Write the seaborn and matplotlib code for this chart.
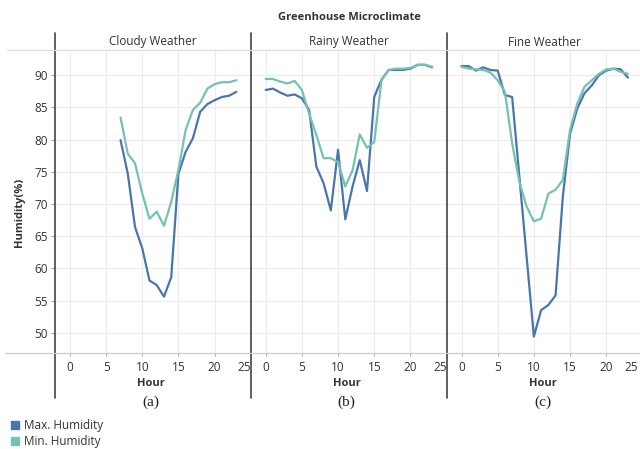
import matplotlib
matplotlib.use("Agg")
import matplotlib.pyplot as plt
from matplotlib.lines import Line2D
import matplotlib.transforms as mtransforms
import seaborn as sns
import pandas as pd

# Hourly humidity readings (%) inside the greenhouse
cloudy_hours = list(range(7, 24))
cloudy_max = [79.9, 74.7, 66.4, 63.1, 58.1, 57.4, 55.6, 58.6, 74.7, 78.1, 80.2,
              84.3, 85.5, 86.1, 86.6, 86.8, 87.4]
cloudy_min = [83.4, 77.8, 76.3, 71.6, 67.7, 68.8, 66.6, 70.3, 75.3, 81.5, 84.6,
              85.7, 87.9, 88.6, 88.9, 88.9, 89.2]

rainy_hours = list(range(0, 24))
rainy_max = [87.7, 87.9, 87.3, 86.8, 87.0, 86.4, 84.6, 75.8, 73.2, 69.0, 78.4, 67.6,
             72.7, 76.8, 72.0, 86.6, 89.3, 90.8, 90.8, 90.8, 91.0, 91.6, 91.6, 91.2]
rainy_min = [89.4, 89.4, 89.0, 88.7, 89.1, 87.7, 84.0, 80.7, 77.1, 77.1, 76.5, 72.7,
             75.2, 80.8, 78.7, 79.6, 89.2, 90.8, 91.0, 91.0, 91.1, 91.6, 91.6, 91.3]

fine_hours = list(range(0, 24))
fine_max = [91.4, 91.4, 90.7, 91.2, 90.8, 90.7, 86.9, 86.6, 74.2, 61.8, 49.4, 53.5,
            54.3, 55.8, 71.1, 80.9, 84.8, 87.2, 88.4, 90.0, 90.7, 91.0, 90.9, 89.6]
fine_min = [91.3, 91.0, 90.9, 90.8, 90.4, 89.2, 87.4, 79.4, 73.4, 69.6, 67.3, 67.7,
            71.6, 72.2, 73.7, 81.5, 85.6, 88.2, 89.2, 90.2, 90.9, 91.0, 90.5, 90.2]

panel_titles = ["Cloudy Weather", "Rainy Weather", "Fine Weather"]
panel_tags = ["(a)", "(b)", "(c)"]
series_names = ["Max. Humidity", "Min. Humidity"]
series_colors = ["#4a75ad", "#74c2b2"]
x_ticks = [0, 5, 10, 15, 20, 25]
y_ticks = [50, 55, 60, 65, 70, 75, 80, 85, 90]

panels = [
    (cloudy_hours, cloudy_max, cloudy_min),
    (rainy_hours, rainy_max, rainy_min),
    (fine_hours, fine_max, fine_min),
]

sns.set_theme(style="white")
plt.rcParams["font.family"] = ["Open Sans", "DejaVu Sans"]

W, H = 640, 449
fig = plt.figure(figsize=(W / 100, H / 100), dpi=100)

def fx(px):
    return px / W

def fy(py):
    return 1 - py / H

ax_top, ax_bot = 50, 353
panel_left = [55, 250.8, 446.6]
panel_w = 195.8
text_col = "#333333"
grid_col = "#ececec"

palette = dict(zip(series_names, series_colors))

for i, (hours, hmax, hmin) in enumerate(panels):
    left = panel_left[i]
    ax = fig.add_axes([fx(left), fy(ax_bot), panel_w / W, (ax_bot - ax_top) / H])
    df = pd.DataFrame({
        "Hour": hours * 2,
        "Humidity": hmax + hmin,
        "Series": [series_names[0]] * len(hours) + [series_names[1]] * len(hours),
    })
    sns.lineplot(data=df, x="Hour", y="Humidity", hue="Series",
                 hue_order=series_names, palette=palette, linewidth=1.6,
                 legend=False, ax=ax, zorder=3)
    ax.set_xlim(-2.06, 25.0)
    ax.set_ylim(46.85, 93.9)
    ax.set_xticks(x_ticks)
    ax.set_yticks(y_ticks)
    ax.grid(True, color=grid_col, linewidth=0.8, zorder=0)
    for s in ax.spines.values():
        s.set_visible(False)
    ax.set_xlabel("")
    ax.set_ylabel("")
    ax.tick_params(axis="x", length=2.5, width=0.6, color="#999999", pad=3,
                   labelsize=8.5, labelcolor=text_col, bottom=True)
    last = ax.get_xticklabels()[-1]
    last.set_ha("right")
    if i == 2:
        # keep the final label inside the canvas
        last.set_transform(last.get_transform() +
                           mtransforms.ScaledTranslation(-4 / 100, 0, fig.dpi_scale_trans))
    if i == 0:
        ax.tick_params(axis="y", length=3, width=0.6, color="#999999", pad=2,
                       labelsize=8.5, labelcolor=text_col, left=True)
    else:
        ax.tick_params(axis="y", left=False, labelleft=False)
    cx = left + panel_w / 2
    fig.text(fx(cx), fy(42), panel_titles[i], ha="center", va="center",
             fontsize=8.5, color=text_col)
    fig.text(fx(cx - 2), fy(384), "Hour", ha="center", va="center",
             fontsize=8, fontweight="bold", color=text_col)
    fig.text(fx(cx - 2), fy(402), panel_tags[i], ha="center", va="center",
             fontsize=11, family="Liberation Serif", color="#222222")
    # facet divider
    fig.add_artist(Line2D([fx(left), fx(left)], [fy(33), fy(398)],
                          color="#444444", linewidth=1.2))

# header and axis rules
fig.add_artist(Line2D([fx(7), fx(640)], [fy(50), fy(50)], color="#dddddd", linewidth=0.9))
fig.add_artist(Line2D([fx(5), fx(640)], [fy(353), fy(353)], color="#cccccc", linewidth=0.9))

fig.text(fx(349), fy(18), "Greenhouse Microclimate", ha="center", va="center",
         fontsize=8, fontweight="bold", color=text_col)
fig.text(fx(19), fy(212), "Humidity(%)", ha="center", va="center", rotation=90,
         fontsize=8, fontweight="bold", color=text_col)

# legend
for k, (name, col) in enumerate(zip(series_names, series_colors)):
    yy = 425 + 16 * k
    fig.add_artist(Line2D([fx(15)], [fy(yy)], marker="s", markersize=5.5,
                          color=col, linestyle="none"))
    fig.text(fx(24), fy(yy), name, ha="left", va="center", fontsize=8.5,
             color=text_col)

fig.savefig("out.png", dpi=100)
